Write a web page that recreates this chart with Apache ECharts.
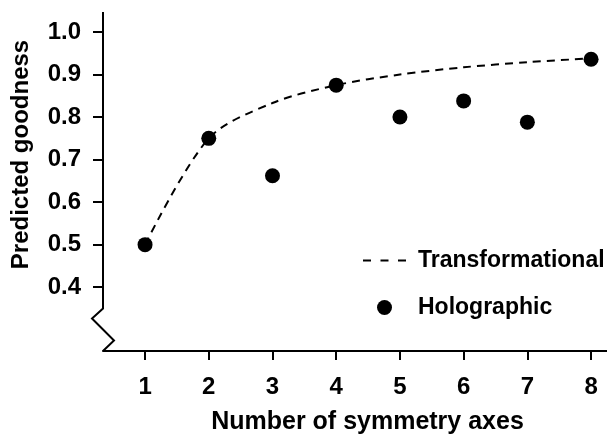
<!DOCTYPE html>
<html>
<head>
<meta charset="utf-8">
<script src="https://cdn.jsdelivr.net/npm/echarts@6/dist/echarts.min.js"></script>
<style>
  html, body { margin: 0; padding: 0; background: #fff; }
  #chart { width: 607px; height: 434px; }
</style>
</head>
<body>
<div id="chart"></div>
<script>
const FONT = "'Liberation Sans', Arial, sans-serif";

// data
const axesCount = [1, 2, 3, 4, 5, 6, 7, 8];
const transformational = [0.5, 0.75, 0.833, 0.875, 0.9, 0.917, 0.929, 0.938];
const holographic = [0.5, 0.75, 0.662, 0.875, 0.8, 0.838, 0.788, 0.936];
const yTicks = [0.4, 0.5, 0.6, 0.7, 0.8, 0.9, 1.0];

const X_MIN = 0.34, X_MAX = 8.25;
const Y_MIN = 0.25, Y_MAX = 1.047;
const BREAK_AT = 0.35;

const chart = echarts.init(document.getElementById("chart"));

chart.setOption({
  animation: false,
  backgroundColor: "#fff",
  grid: { left: 103, right: 0, top: 12, bottom: 83, outerBoundsMode: "none" },
  legend: {
    orient: "vertical",
    left: 362,
    top: 249,
    padding: 0,
    itemWidth: 43,
    itemHeight: 15,
    itemGap: 24,
    textStyle: { fontFamily: FONT, fontSize: 23, fontWeight: "bold", color: "#000", padding: [0, 0, 0, 7] },
    data: [
      { name: "Transformational", itemStyle: { opacity: 0 }, lineStyle: { type: [8, 9.5] } },
      { name: "Holographic" },
    ],
  },
  xAxis: {
    type: "value",
    min: X_MIN,
    max: X_MAX,
    name: "Number of symmetry axes",
    nameLocation: "middle",
    nameGap: 59,
    nameTextStyle: { fontFamily: FONT, fontSize: 25, fontWeight: "bold", color: "#000", padding: [0, 0, 0, 25] },
    axisLine: { lineStyle: { color: "#000", width: 2 } },
    axisTick: { customValues: axesCount, length: 9, lineStyle: { color: "#000", width: 2 } },
    axisLabel: {
      customValues: axesCount,
      margin: 24,
      fontFamily: FONT, fontSize: 24, fontWeight: "bold", color: "#000",
    },
    splitLine: { show: false },
  },
  yAxis: {
    type: "value",
    min: Y_MIN,
    max: Y_MAX,
    name: "Predicted goodness",
    nameLocation: "middle",
    nameGap: 70,
    nameTextStyle: { fontFamily: FONT, fontSize: 24, fontWeight: "bold", color: "#000", padding: [0, 0, 0, 54] },
    axisLine: { show: false },
    axisTick: { customValues: yTicks, length: 10, lineStyle: { color: "#000", width: 2 } },
    axisLabel: {
      customValues: yTicks,
      margin: 22,
      formatter: v => v.toFixed(1),
      fontFamily: FONT, fontSize: 24, fontWeight: "bold", color: "#000",
    },
    splitLine: { show: false },
  },
  series: [
    {
      name: "Transformational",
      type: "line",
      smooth: 0.3,
      symbol: "none",
      data: axesCount.map((x, i) => [x, transformational[i]]),
      lineStyle: { color: "#000", width: 2, type: [8, 6] },
      itemStyle: { color: "#000" },
      z: 2,
    },
    {
      name: "Holographic",
      type: "scatter",
      symbolSize: 15,
      data: axesCount.map((x, i) => [x, holographic[i]]),
      itemStyle: { color: "#000", opacity: 1 },
      z: 3,
    },
  ],
});

// y axis line with the break mark, placed from the axis scale
function drawBrokenAxis() {
  const x0 = chart.convertToPixel({ xAxisIndex: 0 }, X_MIN);
  const yTop = chart.convertToPixel({ yAxisIndex: 0 }, Y_MAX);
  const yBreak = chart.convertToPixel({ yAxisIndex: 0 }, BREAK_AT);
  const yBottom = chart.convertToPixel({ yAxisIndex: 0 }, Y_MIN);
  chart.setOption({
    graphic: [{
      type: "polyline",
      shape: {
        points: [
          [x0, yTop],
          [x0, yBreak],
          [x0 - 11, yBreak + 10],
          [x0 + 11, yBreak + 32],
          [x0, yBottom],
        ],
      },
      style: { stroke: "#000", lineWidth: 2, fill: null },
      z: 10,
    }],
  });
}
drawBrokenAxis();
</script>
</body>
</html>
